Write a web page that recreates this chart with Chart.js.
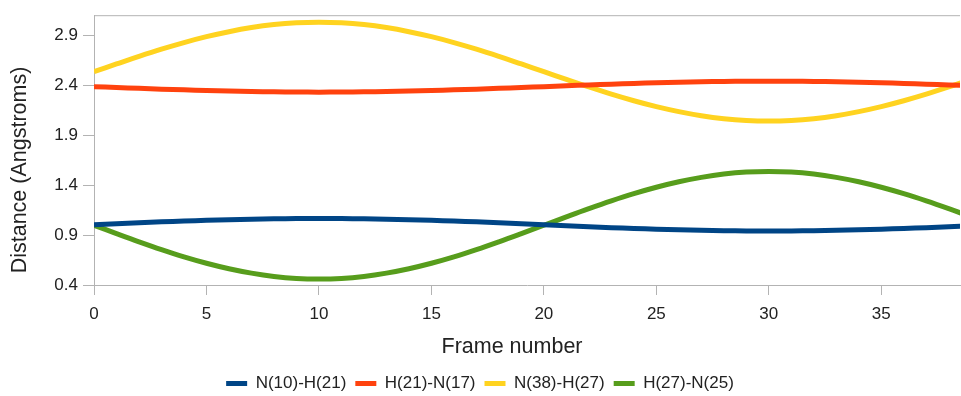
<!DOCTYPE html>
<html>
<head>
<meta charset="utf-8">
<script src="https://cdn.jsdelivr.net/npm/chart.js@4/dist/chart.umd.min.js"></script>
<style>
  html, body { margin: 0; padding: 0; background: #fff; }
  #wrap { width: 961px; height: 396px; position: relative; }
</style>
</head>
<body>
<div id="wrap"><canvas id="c"></canvas></div>
<script>
// Frame indices (0..39)
const frames = [0,1,2,3,4,5,6,7,8,9,10,11,12,13,14,15,16,17,18,19,20,21,22,23,24,25,26,27,28,29,30,31,32,33,34,35,36,37,38,39];

// Interatomic distances per frame, in Angstroms
const n10_h21 = [1.003,1.013,1.022,1.032,1.040,1.048,1.054,1.059,1.063,1.065,1.066,1.065,1.063,1.059,1.054,1.048,1.040,1.032,1.022,1.013,
                 1.003,0.993,0.984,0.974,0.966,0.958,0.952,0.947,0.943,0.941,0.940,0.941,0.943,0.947,0.952,0.958,0.966,0.974,0.984,0.993];
const h21_n17 = [2.385,2.376,2.368,2.360,2.353,2.346,2.341,2.336,2.333,2.331,2.330,2.331,2.333,2.336,2.341,2.346,2.353,2.360,2.368,2.376,
                 2.385,2.394,2.402,2.410,2.417,2.424,2.430,2.434,2.437,2.439,2.440,2.439,2.437,2.434,2.430,2.424,2.417,2.410,2.402,2.394];
const n38_h27 = [2.535,2.612,2.688,2.760,2.826,2.885,2.935,2.976,3.006,3.024,3.030,3.024,3.006,2.976,2.935,2.885,2.826,2.760,2.688,2.612,
                 2.535,2.458,2.382,2.310,2.244,2.185,2.135,2.094,2.064,2.046,2.040,2.046,2.064,2.094,2.135,2.185,2.244,2.310,2.382,2.458];
const h27_n25 = [0.998,0.914,0.832,0.754,0.682,0.618,0.563,0.519,0.486,0.466,0.460,0.466,0.486,0.519,0.563,0.618,0.682,0.754,0.832,0.914,
                 0.998,1.082,1.164,1.242,1.314,1.378,1.433,1.477,1.510,1.530,1.536,1.530,1.510,1.477,1.433,1.378,1.314,1.242,1.164,1.082];

const seriesNames = ['N(10)-H(21)', 'H(21)-N(17)', 'N(38)-H(27)', 'H(27)-N(25)'];
const seriesColors = ['#004586', '#ff420e', '#ffd320', '#579d1c'];

const xTicks = [0, 5, 10, 15, 20, 25, 30, 35];
const yTicks = [0.4, 0.9, 1.4, 1.9, 2.4, 2.9];

const xTitle = 'Frame number';
const yTitle = 'Distance (Angstroms)';

const FONT = '"Liberation Sans", Arial, sans-serif';
const GRID = '#b3b3b3';
const TEXT = '#222';

const toPoints = arr => arr.map((v, i) => ({ x: frames[i], y: v }));

// Top frame line plus the two axis titles
const frameAndTitles = {
  id: 'frameAndTitles',
  afterDraw(chart) {
    const { ctx, chartArea: a } = chart;
    ctx.save();
    ctx.strokeStyle = GRID;
    ctx.lineWidth = 1;
    ctx.beginPath();
    ctx.moveTo(a.left, a.top + 0.5);
    ctx.lineTo(a.right, a.top + 0.5);
    ctx.stroke();

    ctx.fillStyle = TEXT;
    ctx.textAlign = 'center';
    ctx.textBaseline = 'middle';
    ctx.font = '21.5px ' + FONT;
    ctx.fillText(xTitle, 512, 347);

    ctx.translate(20, 170);
    ctx.rotate(-Math.PI / 2);
    ctx.font = '21.5px ' + FONT;
    ctx.fillText(yTitle, 0, 0);
    ctx.restore();
  }
};

new Chart(document.getElementById('c'), {
  type: 'line',
  data: {
    datasets: [n10_h21, h21_n17, n38_h27, h27_n25].map((arr, i) => ({
      label: seriesNames[i],
      data: toPoints(arr),
      borderColor: seriesColors[i],
      backgroundColor: seriesColors[i],
      borderWidth: 5,
      pointRadius: 0,
      pointHoverRadius: 0,
      tension: 0.4,
      fill: false,
      clip: 0
    }))
  },
  options: {
    responsive: true,
    maintainAspectRatio: false,
    animation: false,
    layout: { padding: { top: 9, right: 1, left: 0, bottom: -6 } },
    plugins: {
      tooltip: { enabled: false },
      legend: {
        position: 'bottom',
        labels: {
          boxWidth: 21,
          boxHeight: 5,
          padding: 9,
          color: TEXT,
          font: { family: FONT, size: 17 },
          generateLabels: chart => chart.data.datasets.map((ds, i) => ({
            text: ds.label,
            fillStyle: ds.borderColor,
            strokeStyle: ds.borderColor,
            lineWidth: 0,
            hidden: false,
            datasetIndex: i,
            fontColor: TEXT
          }))
        }
      }
    },
    scales: {
      x: {
        type: 'linear',
        min: 0,
        max: 38.5,
        afterBuildTicks: s => { s.ticks = xTicks.map(v => ({ value: v })); },
        afterFit: s => { s.height = 81; },
        grid: { drawOnChartArea: false, color: GRID, tickLength: 10 },
        border: { color: GRID },
        ticks: { color: TEXT, font: { family: FONT, size: 17 }, padding: 9, maxRotation: 0 }
      },
      y: {
        min: 0.4,
        max: 3.1,
        afterBuildTicks: s => { s.ticks = yTicks.map(v => ({ value: v })); },
        afterFit: s => { s.width = 94; },
        grid: { drawOnChartArea: false, color: GRID, tickLength: 11 },
        border: { color: GRID },
        ticks: { color: TEXT, font: { family: FONT, size: 17 }, padding: 5, callback: v => v.toFixed(1) }
      }
    }
  },
  plugins: [frameAndTitles]
});
</script>
</body>
</html>
